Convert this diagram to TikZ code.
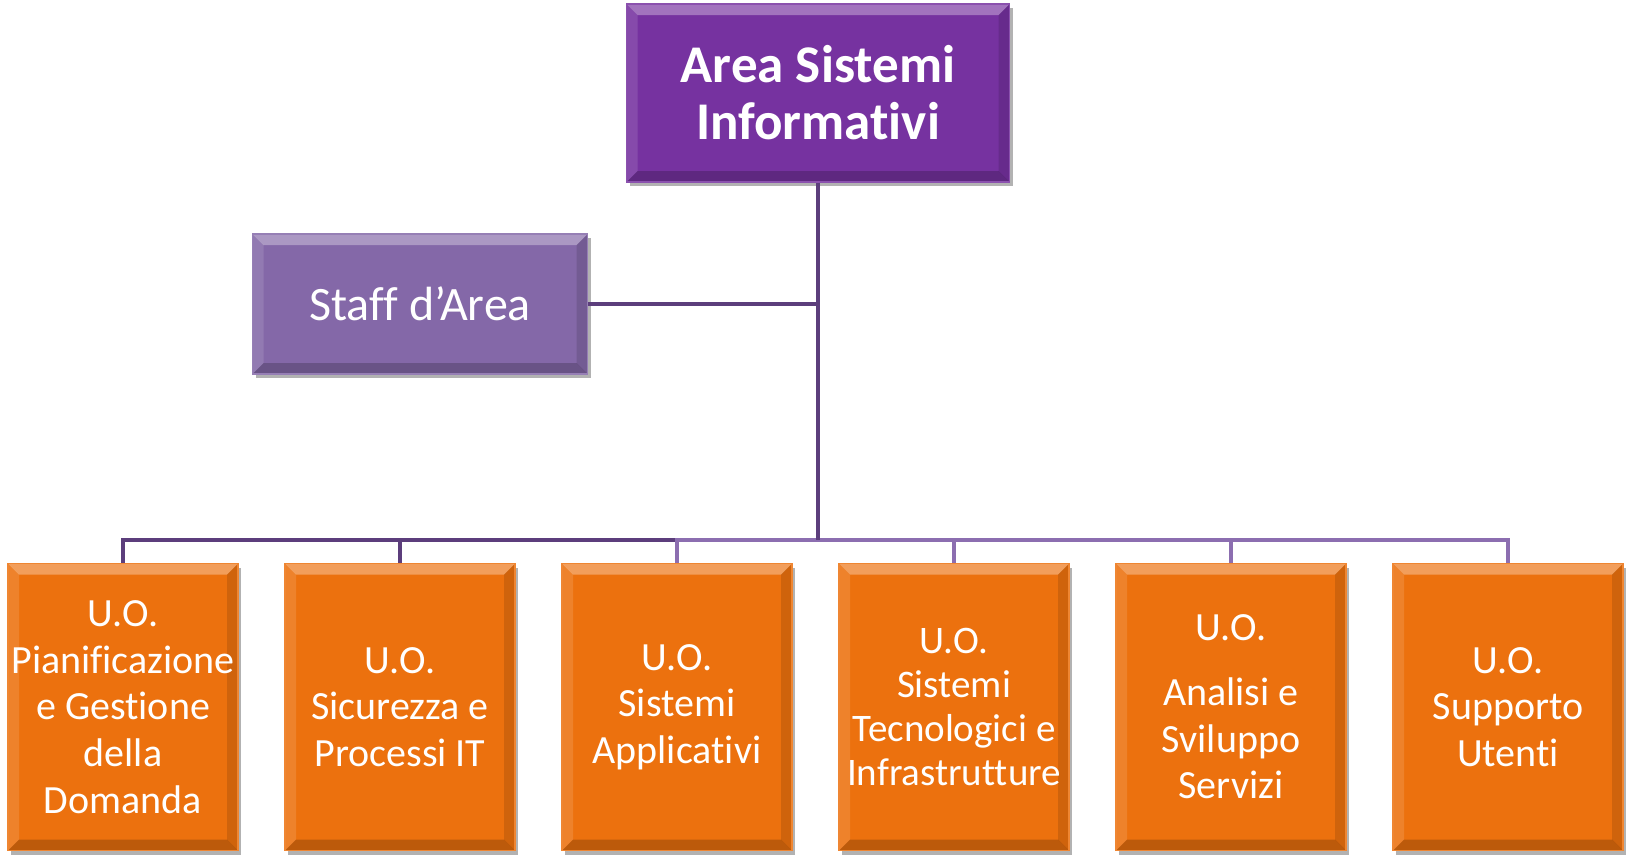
\documentclass[tikz,border=0pt]{standalone}
\usepackage{fontspec}
\setmainfont{Carlito}[Ligatures={NoCommon,NoRare}]
\usetikzlibrary{shadows}
\definecolor{toppurple}{RGB}{118,50,160}
\definecolor{staffpurple}{RGB}{132,104,168}
\definecolor{uoorange}{RGB}{236,113,14}
\definecolor{linedark}{RGB}{92,62,124}
\definecolor{linelight}{RGB}{140,110,176}
\def\bevw{11pt}
\tikzset{
  boxbase/.style={draw=#1!85!white, line width=1.2pt, fill=#1, text=white, align=center, inner sep=0pt,
    drop shadow={shadow xshift=3pt, shadow yshift=-4pt, fill=black, opacity=0.3},
    path picture={
      \path (path picture bounding box.north west) coordinate (bnw)
            (path picture bounding box.north east) coordinate (bne)
            (path picture bounding box.south west) coordinate (bsw)
            (path picture bounding box.south east) coordinate (bse);
      \fill[white, opacity=0.32] (bnw) -- (bne) -- ([shift={(-\bevw,-\bevw)}]bne) -- ([shift={(\bevw,-\bevw)}]bnw) -- cycle;
      \fill[white, opacity=0.12] (bnw) -- ([shift={(\bevw,-\bevw)}]bnw) -- ([shift={(\bevw,\bevw)}]bsw) -- (bsw) -- cycle;
      \fill[black, opacity=0.12] (bne) -- ([shift={(-\bevw,-\bevw)}]bne) -- ([shift={(-\bevw,\bevw)}]bse) -- (bse) -- cycle;
      \fill[black, opacity=0.2] (bsw) -- ([shift={(\bevw,\bevw)}]bsw) -- ([shift={(-\bevw,\bevw)}]bse) -- (bse) -- cycle;
    }},
  topbox/.style={boxbase=toppurple, minimum width=383pt, minimum height=178pt,
    font=\bfseries\fontsize{53}{57}\selectfont},
  staffbox/.style={boxbase=staffpurple, minimum width=335pt, minimum height=140pt,
    font=\fontsize{48}{54}\selectfont},
  uobox/.style={boxbase=uoorange, minimum width=230pt, minimum height=287pt,
    font=\fontsize{40}{46.7}\selectfont},
  conndark/.style={draw=linedark, line width=4pt},
  connlight/.style={draw=linelight, line width=4pt},
}
\begin{document}
\begin{tikzpicture}[x=1pt,y=-1pt]
\useasboundingbox[fill=white] (0,0) rectangle (1627,854);

\node[topbox] (top) at (818,93) {Area Sistemi\\Informativi};
\node[staffbox] (staff) at (420,304) {Staff d’Area};

\node[uobox] (u1) at (123,707) {U.O.\\Pianificazione\\e Gestione\\della\\Domanda};
\node[uobox] (u2) at (400,707) {U.O.\\Sicurezza e\\Processi IT};
\node[uobox] (u3) at (677,707) {U.O.\\Sistemi\\Applicativi};
\node[uobox, font=\fontsize{39}{44}\selectfont] (u4) at (954,707) {U.O.\\Sistemi\\Tecnologici e\\Infrastrutture};
\node[uobox] (u5) at (1231,707) {U.O.\\[18pt]Analisi e\\Sviluppo\\Servizi};
\node[uobox] (u6) at (1508,707) {U.O.\\Supporto\\Utenti};

\coordinate (bus) at (818,540);

\draw[conndark] (staff.east) -- (staff.east -| bus);
\draw[conndark] (bus) -| (u1.north);
\draw[conndark] (bus) -| (u2.north);
\draw[connlight] (bus) -| (u3.north);
\draw[connlight] (bus) -| (u4.north);
\draw[connlight] (bus) -| (u5.north);
\draw[connlight] (bus) -| (u6.north);
\draw[conndark] (top.south) -- (bus);
\end{tikzpicture}
\end{document}
